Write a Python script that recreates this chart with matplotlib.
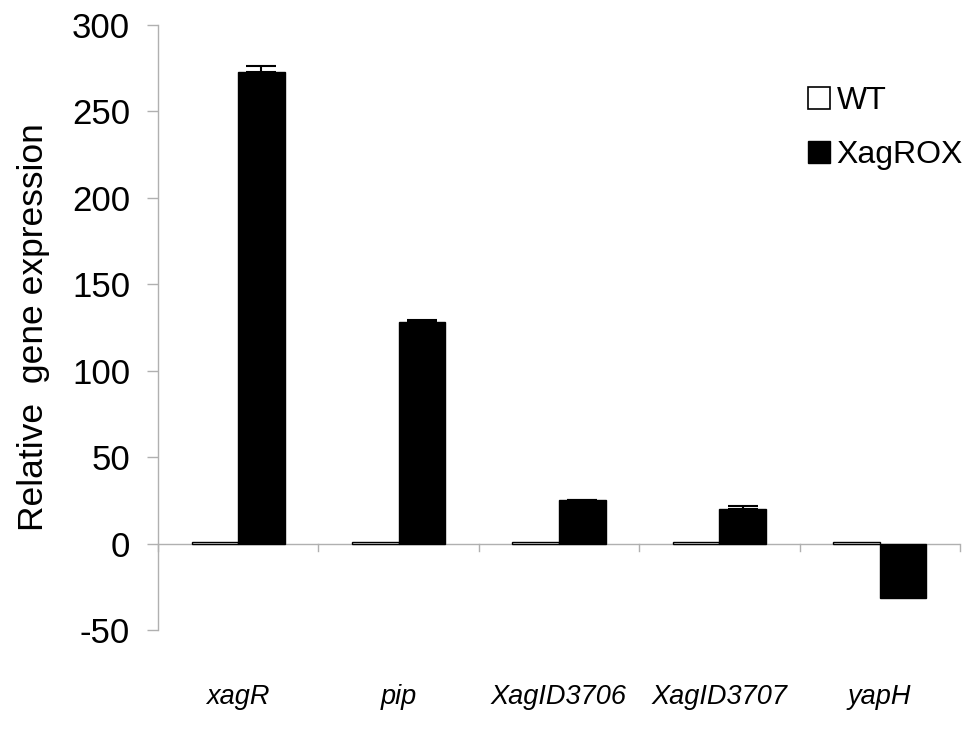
import matplotlib
matplotlib.use("Agg")
import matplotlib.pyplot as plt
import numpy as np
from matplotlib.patches import Patch
from matplotlib.transforms import blended_transform_factory

plt.rcParams['font.family'] = ['Liberation Sans', 'DejaVu Sans']

genes = ["xagR", "pip", "XagID3706", "XagID3707", "yapH"]
wt = [1, 1, 1, 1, 1]
xagrox = [273, 128, 25, 20, -31.5]
xagrox_err = [3, 1.5, 0.3, 1.5, 0.3]
yticks = [-50, 0, 50, 100, 150, 200, 250, 300]

fig = plt.figure(figsize=(9.73, 7.31), dpi=100)
ax = fig.add_axes([0.1624, 0.1382, 0.8242, 0.8276])

x = np.arange(len(genes))
w = 0.29
ax.bar(x - w / 2, wt, w, color="white", edgecolor="black", linewidth=1.0, zorder=3)
ax.bar(x + w / 2, xagrox, w, color="black", edgecolor="black", linewidth=1.0, zorder=3)
for xi, v, e in zip(x, xagrox, xagrox_err):
    if v > 0:
        ax.errorbar(xi + w / 2, v, yerr=[[0], [e]], fmt="none", ecolor="black",
                    elinewidth=1.5, capsize=11, capthick=1.5, zorder=4)

ax.set_xlim(-0.5, len(genes) - 0.5)
ax.set_ylim(-50, 300)
ax.set_yticks(yticks)
ax.set_yticklabels([str(t) for t in yticks], fontsize=25)

for s in ["top", "right", "bottom"]:
    ax.spines[s].set_visible(False)
ax.spines["left"].set_color("#b0b0b0")
ax.spines["left"].set_linewidth(1.0)
ax.tick_params(axis="y", direction="out", length=8, color="#b0b0b0", width=1.0, pad=12)
ax.set_xticks([])

# zero axis line with category boundary ticks
ax.axhline(0, color="#b0b0b0", linewidth=1.0, zorder=2)
for b in np.arange(-0.5, len(genes), 1.0):
    ax.plot([b, b], [0, -4.5], color="#b0b0b0", linewidth=1.0, zorder=2, clip_on=False)

trans = blended_transform_factory(ax.transData, ax.transAxes)
for xi, g in zip(x, genes):
    ax.text(xi, -0.11, g, transform=trans, ha="center", va="center",
            fontsize=19.5, style="italic")

ax.set_ylabel("Relative  gene expression", fontsize=25.5, labelpad=10)
ax.yaxis.set_label_coords(-0.135, 0.5)

handles = [Patch(facecolor="white", edgecolor="black", linewidth=1.2, label="WT"),
           Patch(facecolor="black", edgecolor="black", label="XagROX")]
leg = fig.legend(handles=handles, loc="upper left", bbox_to_anchor=(0.830, 0.882),
                 frameon=False, fontsize=23, handlelength=0.69, handleheight=0.69,
                 handletextpad=0.22, labelspacing=0.74, borderpad=0, borderaxespad=0)

fig.savefig("out.png", dpi=100)
